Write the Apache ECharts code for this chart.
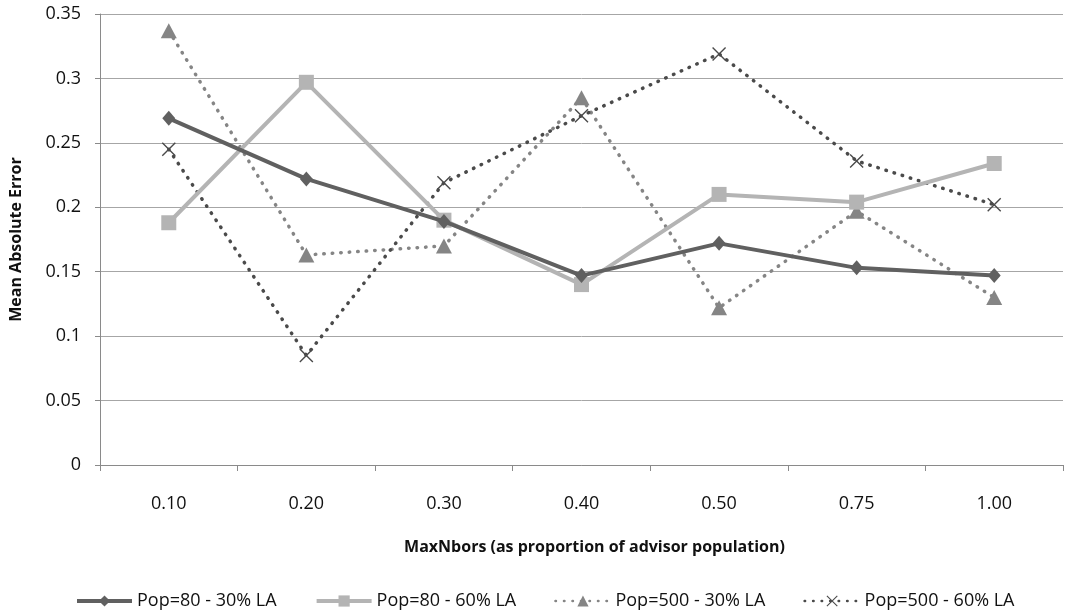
<!DOCTYPE html>
<html>
<head>
<meta charset="utf-8">
<script src="https://cdn.jsdelivr.net/npm/echarts@6/dist/echarts.min.js"></script>
<style>
html,body{margin:0;padding:0;background:#fff;}
#chart{width:1081px;height:614px;}
</style>
</head>
<body>
<div id="chart"></div>
<script>
const categories = ['0.10', '0.20', '0.30', '0.40', '0.50', '0.75', '1.00'];
const seriesNames = ['Pop=80 - 30% LA', 'Pop=80 - 60% LA', 'Pop=500 - 30% LA', 'Pop=500 - 60% LA'];
const pop80_30 = [0.269, 0.222, 0.189, 0.147, 0.172, 0.153, 0.147];
const pop80_60 = [0.188, 0.297, 0.190, 0.140, 0.210, 0.204, 0.234];
const pop500_30 = [0.337, 0.163, 0.170, 0.285, 0.122, 0.197, 0.130];
const pop500_60 = [0.245, 0.085, 0.219, 0.271, 0.319, 0.236, 0.202];
const yTicks = { min: 0, max: 0.35, interval: 0.05 };

const FONT = '"Open Sans", "Liberation Sans", sans-serif';
const xPath = 'path://M0,7L7,0L50,43L93,0L100,7L57,50L100,93L93,100L50,57L7,100L0,93L43,50Z';

const chart = echarts.init(document.getElementById('chart'), null, { renderer: 'canvas' });
chart.setOption({
  animation: false,
  backgroundColor: '#ffffff',
  textStyle: { fontFamily: FONT },
  grid: { left: 100, right: 18, top: 14, bottom: 149, containLabel: false },
  legend: {
    left: 70, top: 587,
    itemWidth: 55, itemHeight: 14, itemGap: 38,
    textStyle: { fontFamily: FONT, fontSize: 18, color: '#111' },
    data: [
      { name: seriesNames[0], lineStyle: { width: 4 } },
      { name: seriesNames[1], lineStyle: { width: 4 } },
      { name: seriesNames[2], lineStyle: { width: 2.5 } },
      { name: seriesNames[3], lineStyle: { width: 2.5 } }
    ]
  },
  xAxis: {
    type: 'category',
    data: categories,
    boundaryGap: true,
    name: 'MaxNbors (as proportion of advisor population)',
    nameLocation: 'middle',
    nameGap: 74,
    nameTextStyle: { fontFamily: FONT, fontSize: 16, fontWeight: 'bold', color: '#111', padding: [0, 0, 0, 26] },
    axisLine: { lineStyle: { color: '#8a8a8a', width: 1 } },
    axisTick: { show: true, alignWithLabel: false, length: 6, lineStyle: { color: '#8a8a8a' } },
    axisLabel: { margin: 30, fontSize: 18, color: '#111', fontFamily: FONT },
    splitLine: { show: false }
  },
  yAxis: {
    type: 'value',
    min: yTicks.min, max: yTicks.max, interval: yTicks.interval,
    name: 'Mean Absolute Error',
    nameLocation: 'middle',
    nameGap: 76,
    nameTextStyle: { fontFamily: FONT, fontSize: 16, fontWeight: 'bold', color: '#111' },
    axisLine: { show: true, lineStyle: { color: '#8a8a8a', width: 1 } },
    axisTick: { show: true, length: 5, lineStyle: { color: '#8a8a8a' } },
    axisLabel: { margin: 19, fontSize: 18, color: '#111', fontFamily: FONT },
    splitLine: { show: true, lineStyle: { color: '#a6a6a6', width: 1 } }
  },
  series: [
    {
      name: seriesNames[0], type: 'line', data: pop80_30,
      symbol: 'diamond', symbolSize: [13, 15],
      lineStyle: { color: '#606060', width: 4 },
      itemStyle: { color: '#606060' },
      z: 4
    },
    {
      name: seriesNames[1], type: 'line', data: pop80_60,
      symbol: 'rect', symbolSize: 15,
      lineStyle: { color: '#b4b4b4', width: 4 },
      itemStyle: { color: '#b4b4b4' },
      z: 3
    },
    {
      name: seriesNames[2], type: 'line', data: pop500_30,
      symbol: 'triangle', symbolSize: [16, 15],
      lineStyle: { color: '#858585', width: 3.5, type: [0.5, 8], cap: 'round' },
      itemStyle: { color: '#858585' },
      z: 2
    },
    {
      name: seriesNames[3], type: 'line', data: pop500_60,
      symbol: xPath, symbolSize: 14,
      lineStyle: { color: '#4a4a4a', width: 3.5, type: [0.5, 8], cap: 'round' },
      itemStyle: { color: '#4a4a4a' },
      z: 2
    }
  ]
});
</script>
</body>
</html>
